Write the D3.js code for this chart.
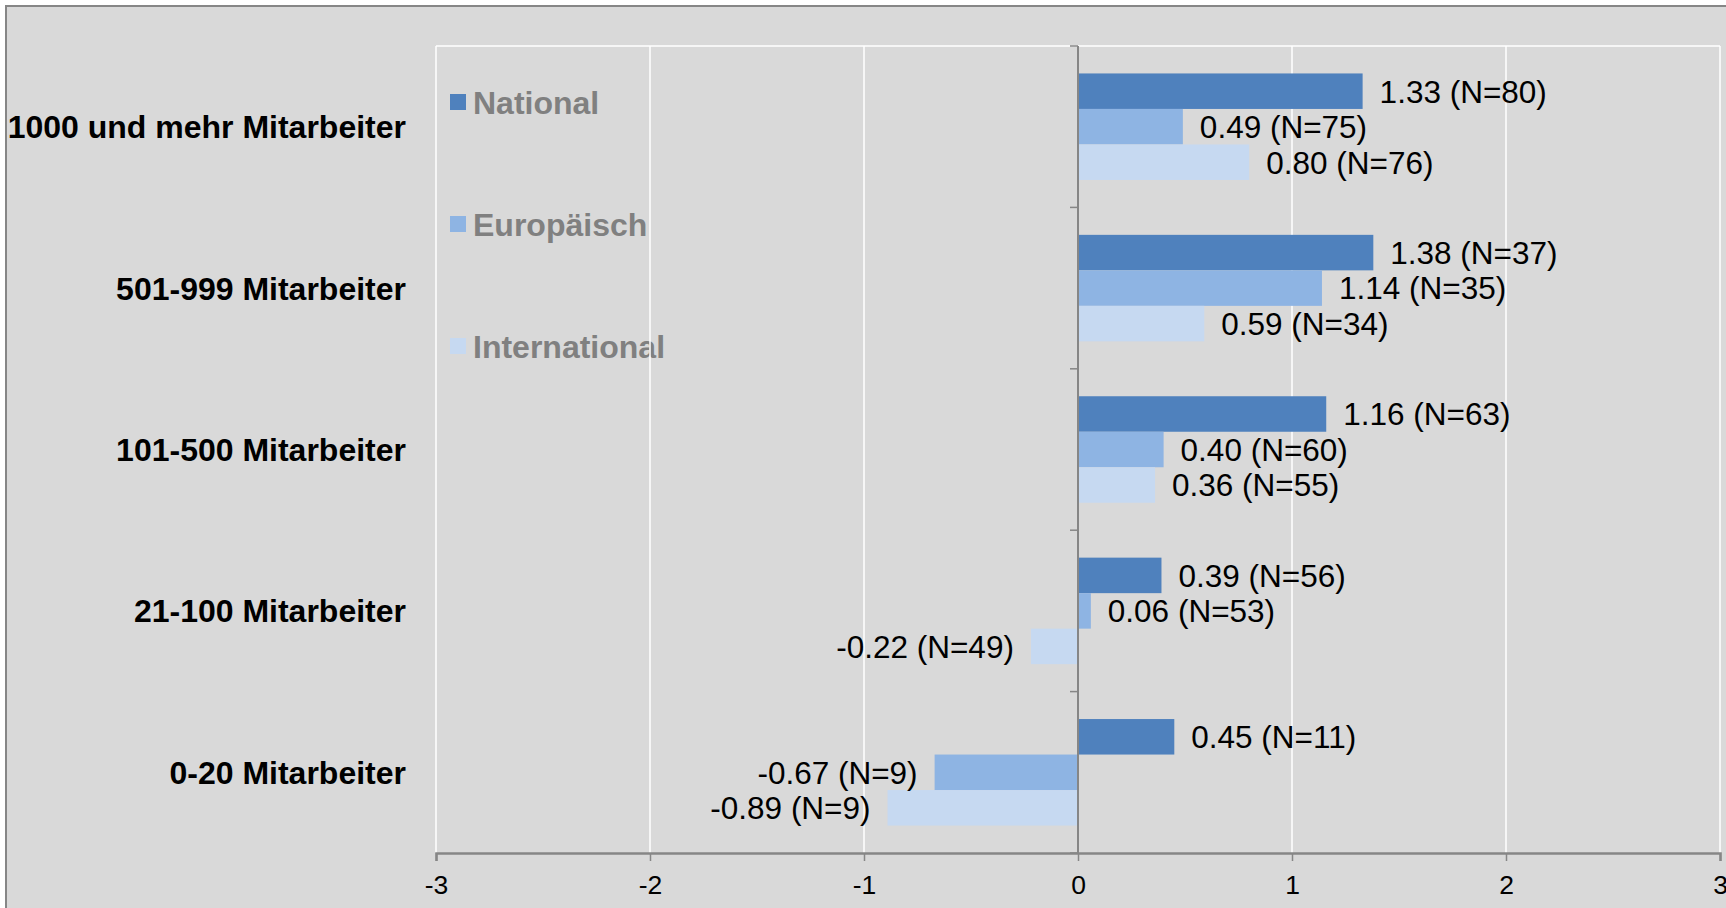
<!DOCTYPE html>
<html>
<head>
<meta charset="utf-8">
<script src="https://cdn.jsdelivr.net/npm/d3@7"></script>
<style>
  html, body { margin: 0; padding: 0; background: #ffffff; }
  svg { display: block; font-family: "Liberation Sans", Arial, sans-serif; }
</style>
</head>
<body>
<svg id="chart" width="1726" height="908"></svg>
<script>
// Company size classes, top to bottom
const categories = [
  "1000 und mehr Mitarbeiter",
  "501-999 Mitarbeiter",
  "101-500 Mitarbeiter",
  "21-100 Mitarbeiter",
  "0-20 Mitarbeiter"
];
const seriesNames = ["National", "Europäisch", "International"];

// Mean scores per series
const nationalValues      = [1.33, 1.38, 1.16, 0.39, 0.45];
const europaeischValues   = [0.49, 1.14, 0.40, 0.06, -0.67];
const internationalValues = [0.80, 0.59, 0.36, -0.22, -0.89];

// Sample sizes per series
const nationalN      = [80, 37, 63, 56, 11];
const europaeischN   = [75, 35, 60, 53, 9];
const internationalN = [76, 34, 55, 49, 9];

const xTicks = [-3, -2, -1, 0, 1, 2, 3];

const colors = ["#4f81bd", "#8eb4e3", "#c6d9f1"];

const seriesValues = [nationalValues, europaeischValues, internationalValues];
const seriesN = [nationalN, europaeischN, internationalN];

const rows = categories.map((c, i) => ({
  category: c,
  bars: seriesNames.map((s, j) => ({ series: s, value: seriesValues[j][i], n: seriesN[j][i], color: colors[j] }))
}));

const svg = d3.select("#chart");

// Outer frame
svg.append("rect")
  .attr("x", 6).attr("y", 6)
  .attr("width", 1760).attr("height", 960)
  .attr("fill", "#d9d9d9")
  .attr("stroke", "#868686")
  .attr("stroke-width", 2);

const plot = { left: 436, right: 1720, top: 46, bottom: 853 };

const x = d3.scaleLinear().domain([-3, 3]).range([plot.left, plot.right]);
const y0 = d3.scaleBand().domain(categories).range([plot.top, plot.bottom]);
const y1 = d3.scaleBand().domain(seriesNames).range([0, y0.bandwidth()]).paddingInner(0).paddingOuter(0.773);

// Legend
const legend = svg.append("g");
const legendY = [102, 224, 346];
seriesNames.forEach((s, j) => {
  legend.append("rect")
    .attr("x", 450).attr("y", legendY[j] - 8)
    .attr("width", 16).attr("height", 16)
    .attr("fill", colors[j]);
  legend.append("text")
    .attr("x", 473).attr("y", legendY[j])
    .attr("dy", "0.36em")
    .attr("font-size", 32)
    .attr("font-weight", "bold")
    .attr("fill", "#808080")
    .text(s);
});

// Vertical gridlines
svg.append("g")
  .selectAll("line")
  .data(xTicks)
  .join("line")
  .attr("x1", d => x(d)).attr("x2", d => x(d))
  .attr("y1", plot.top).attr("y2", plot.bottom)
  .attr("stroke", "#ffffff")
  .attr("stroke-width", 1.5);

// Top border of plot area
svg.append("line")
  .attr("x1", plot.left).attr("x2", plot.right)
  .attr("y1", plot.top).attr("y2", plot.top)
  .attr("stroke", "#ffffff").attr("stroke-width", 1.5);

// Bars
const groups = svg.append("g")
  .selectAll("g")
  .data(rows)
  .join("g")
  .attr("transform", d => `translate(0,${y0(d.category)})`);

groups.selectAll("rect")
  .data(d => d.bars)
  .join("rect")
  .attr("x", d => x(Math.min(0, d.value)))
  .attr("y", d => y1(d.series))
  .attr("width", d => Math.abs(x(d.value) - x(0)))
  .attr("height", y1.bandwidth())
  .attr("fill", d => d.color);

// Value labels
groups.selectAll("text")
  .data(d => d.bars)
  .join("text")
  .attr("x", d => d.value >= 0 ? x(d.value) + 17 : x(d.value) - 17)
  .attr("y", d => y1(d.series) + y1.bandwidth() / 2)
  .attr("dy", "0.36em")
  .attr("text-anchor", d => d.value >= 0 ? "start" : "end")
  .attr("font-size", 31.5)
  .attr("fill", "#000000")
  .text(d => `${d.value.toFixed(2)} (N=${d.n})`);

// Value axis at the bottom
const xAxis = svg.append("g")
  .attr("transform", `translate(0,${plot.bottom})`)
  .call(d3.axisBottom(x).tickValues(xTicks).tickSize(8).tickPadding(14).tickFormat(d3.format("d")));
xAxis.select(".domain").attr("stroke", "#868686").attr("stroke-width", 2.5);
xAxis.selectAll(".tick line").attr("stroke", "#868686").attr("stroke-width", 1.5);
xAxis.selectAll(".tick text")
  .attr("font-size", 26.5)
  .attr("font-family", "'Liberation Sans', Arial, sans-serif")
  .attr("fill", "#000000")
  .text(d => d < 0 ? "-" + Math.abs(d) : d);

// Category axis along zero
const yAxis = svg.append("g")
  .attr("transform", `translate(${x(0)},0)`);
yAxis.append("line")
  .attr("x1", 0).attr("x2", 0)
  .attr("y1", plot.top).attr("y2", plot.bottom)
  .attr("stroke", "#868686").attr("stroke-width", 2);
const boundaries = categories.map(c => y0(c)).concat([plot.bottom]);
yAxis.selectAll("line.tick")
  .data(boundaries)
  .join("line")
  .attr("class", "tick")
  .attr("x1", -8).attr("x2", 0)
  .attr("y1", d => d).attr("y2", d => d)
  .attr("stroke", "#868686").attr("stroke-width", 1.5);

// Category labels
svg.append("g")
  .selectAll("text")
  .data(categories)
  .join("text")
  .attr("x", 406)
  .attr("y", d => y0(d) + y0.bandwidth() / 2)
  .attr("dy", "0.36em")
  .attr("text-anchor", "end")
  .attr("font-size", 32)
  .attr("font-weight", "bold")
  .attr("fill", "#000000")
  .text(d => d);
</script>
</body>
</html>
